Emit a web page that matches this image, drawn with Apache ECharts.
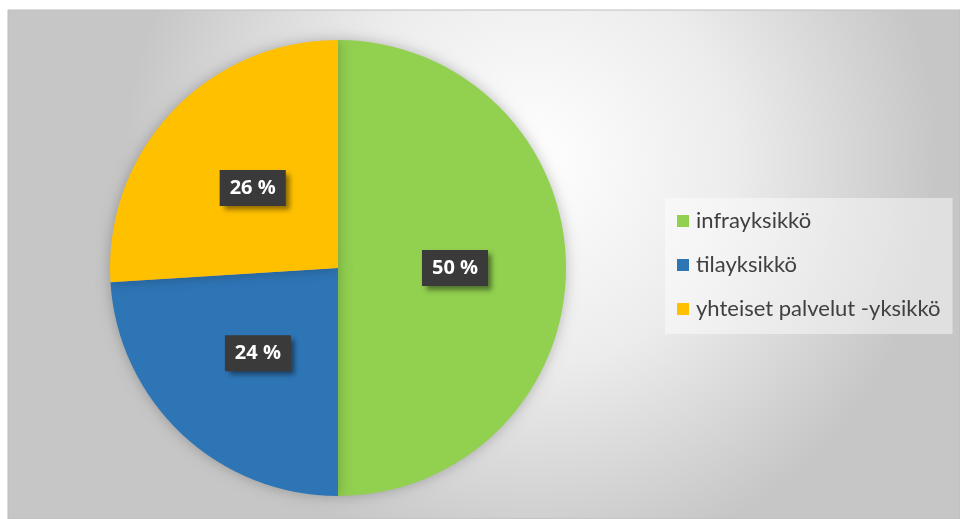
<!DOCTYPE html>
<html>
<head>
<meta charset="utf-8">
<script src="https://cdn.jsdelivr.net/npm/echarts@6/dist/echarts.min.js"></script>
<style>
  html, body { margin: 0; padding: 0; background: #fff; }
  #main { width: 960px; height: 519px; }
</style>
</head>
<body>
<div id="main"></div>
<script>
const categories = ['infrayksikkö', 'tilayksikkö', 'yhteiset palvelut -yksikkö'];
const shares = [50, 24, 26];
const colors = ['#92d050', '#2e75b6', '#ffc000'];

const chart = echarts.init(document.getElementById('main'));

const pieData = categories.map((name, i) => ({
  name: name,
  value: shares[i],
  itemStyle: { color: colors[i] }
}));

const option = {
  animation: false,
  graphic: [
    {
      type: 'rect',
      z: -10,
      shape: { x: 8, y: 10, width: 952, height: 509 },
      style: {
        fill: new echarts.graphic.RadialGradient(0.55, 0.3, 0.8, [
          { offset: 0, color: '#ffffff' },
          { offset: 0.5, color: '#ececec' },
          { offset: 1, color: '#c6c6c6' }
        ], false),
        stroke: '#bdbdbd',
        lineWidth: 1
      }
    }
  ],
  legend: {
    orient: 'vertical',
    left: 665,
    top: 198,
    icon: 'rect',
    itemWidth: 12,
    itemHeight: 12,
    itemGap: 22,
    padding: [12, 12, 14, 12],
    backgroundColor: 'rgba(255,255,255,0.45)',
    textStyle: { fontSize: 22, color: '#404040', fontFamily: 'Lato', padding: [0, 0, 0, 2] },
    data: categories
  },
  series: [
    {
      type: 'pie',
      center: [338, 268],
      radius: [0, 228],
      startAngle: 90,
      clockwise: true,
      itemStyle: {
        shadowBlur: 14,
        shadowColor: 'rgba(0,0,0,0.25)'
      },
      label: {
        show: true,
        position: 'inner',
        formatter: '{c} %',
        color: '#ffffff',
        fontWeight: 'bold',
        fontSize: 20,
        fontFamily: 'Open Sans',
        backgroundColor: '#3a3a3a',
        padding: [9, 10, 7, 10],
        shadowBlur: 5,
        shadowOffsetX: 4,
        shadowOffsetY: 4,
        shadowColor: 'rgba(0,0,0,0.45)'
      },
      labelLine: { show: false },
      emphasis: { disabled: true },
      data: pieData
    }
  ]
};

chart.setOption(option);
</script>
</body>
</html>
